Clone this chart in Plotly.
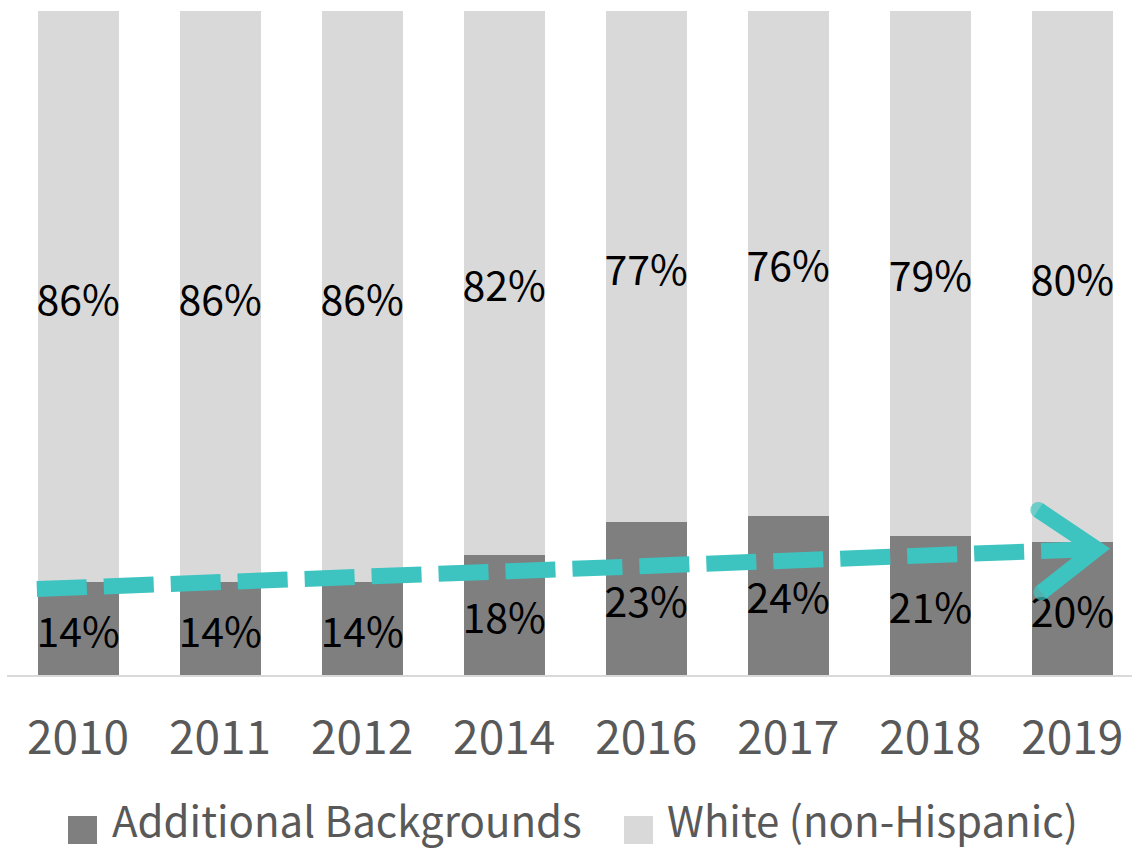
import math
import plotly.graph_objects as go

# Survey years and the share of each group (percent)
years = ["2010", "2011", "2012", "2014", "2016", "2017", "2018", "2019"]
additional = [14, 14, 14, 18, 23, 24, 21, 20]
white = [86, 86, 86, 82, 77, 76, 79, 80]

# Hand-drawn trend arrow: (category position, percent)
trend_start = (-0.29, 12.95)
trend_end = (7.17, 18.98)

DARK = "#7F7F7F"
LIGHT = "#D9D9D9"
TEAL = "#3EC4C0"
AXIS_TEXT = "#595959"
FONT = "Noto Sans CJK JP"

W, H = 1132, 849
M_L, M_R, M_T, M_B = 7, 0, 11, 174
X_RANGE = [-0.5, 7.42]
Y_RANGE = [0, 100]
plot_w = W - M_L - M_R
plot_h = H - M_T - M_B
px_per_x = plot_w / (X_RANGE[1] - X_RANGE[0])
px_per_y = plot_h / (Y_RANGE[1] - Y_RANGE[0])

xs = list(range(len(years)))

fig = go.Figure()

label_font = dict(family=FONT, size=41, color="black")
fig.add_trace(go.Bar(
    x=xs, y=additional, name="Additional Backgrounds",
    marker=dict(color=DARK, line=dict(width=0)),
    text=[f"{v}%" for v in additional], textposition="inside",
    insidetextanchor="middle", textangle=0, constraintext="none",
    textfont=label_font, showlegend=False, hoverinfo="skip",
))
fig.add_trace(go.Bar(
    x=xs, y=white, name="White (non-Hispanic)",
    marker=dict(color=LIGHT, line=dict(width=0)),
    text=[f"{v}%" for v in white], textposition="inside",
    insidetextanchor="middle", textangle=0, constraintext="none",
    textfont=label_font, showlegend=False, hoverinfo="skip",
))

# Dashed trend line
fig.add_trace(go.Scatter(
    x=[trend_start[0], trend_end[0]], y=[trend_start[1], trend_end[1]],
    mode="lines", line=dict(color=TEAL, width=16, dash="50px,17px"),
    showlegend=False, hoverinfo="skip",
))

# Open chevron at the arrow tip, built in pixel space then mapped back
dx_px = (trend_end[0] - trend_start[0]) * px_per_x
dy_px = (trend_end[1] - trend_start[1]) * px_per_y
ang = math.atan2(dy_px, dx_px)
arm_len = 70
half = math.radians(36)
arm_x, arm_y = [], []
for s in (1, -1):
    a = ang + math.pi + s * half
    arm_x.append(trend_end[0] + arm_len * math.cos(a) / px_per_x)
    arm_y.append(trend_end[1] + arm_len * math.sin(a) / px_per_y)
fig.add_trace(go.Scatter(
    x=[arm_x[0], trend_end[0], arm_x[1]],
    y=[arm_y[0], trend_end[1], arm_y[1]],
    mode="lines+markers",
    line=dict(color=TEAL, width=16),
    marker=dict(color=TEAL, size=[16, 0, 16], line=dict(width=0)),
    showlegend=False, hoverinfo="skip",
))

# Legend drawn as swatches + text below the axis
def paper_x(px):
    return (px - M_L) / plot_w

def paper_y(py):
    return (H - M_B - py) / plot_h

legend_items = [
    ("Additional Backgrounds", DARK, 68, 110),
    ("White (non-Hispanic)", LIGHT, 624, 665),
]
shapes = []
annotations = []
for text, color, sw_x, tx in legend_items:
    shapes.append(dict(
        type="rect", xref="paper", yref="paper",
        x0=paper_x(sw_x), x1=paper_x(sw_x + 29),
        y0=paper_y(844), y1=paper_y(816),
        fillcolor=color, line=dict(width=0), layer="above",
    ))
    annotations.append(dict(
        xref="paper", yref="paper", x=paper_x(tx), y=paper_y(818),
        xanchor="left", yanchor="middle", text=text, showarrow=False,
        font=dict(family=FONT, size=42, color=AXIS_TEXT),
    ))

fig.update_layout(
    width=W, height=H,
    margin=dict(l=M_L, r=M_R, t=M_T, b=M_B, pad=0),
    barmode="stack", bargap=0.43,
    plot_bgcolor="white", paper_bgcolor="white",
    showlegend=False,
    shapes=shapes, annotations=annotations,
    xaxis=dict(
        range=X_RANGE, tickmode="array", tickvals=xs, ticktext=years,
        showgrid=False, zeroline=False, ticks="",
        showline=True, linecolor=LIGHT, linewidth=2,
        tickfont=dict(family=FONT, size=46, color=AXIS_TEXT),
        ticklabelstandoff=22,
    ),
    yaxis=dict(range=Y_RANGE, visible=False, showgrid=False, zeroline=False),
    font=dict(family=FONT),
)

fig.write_html("out.html")
